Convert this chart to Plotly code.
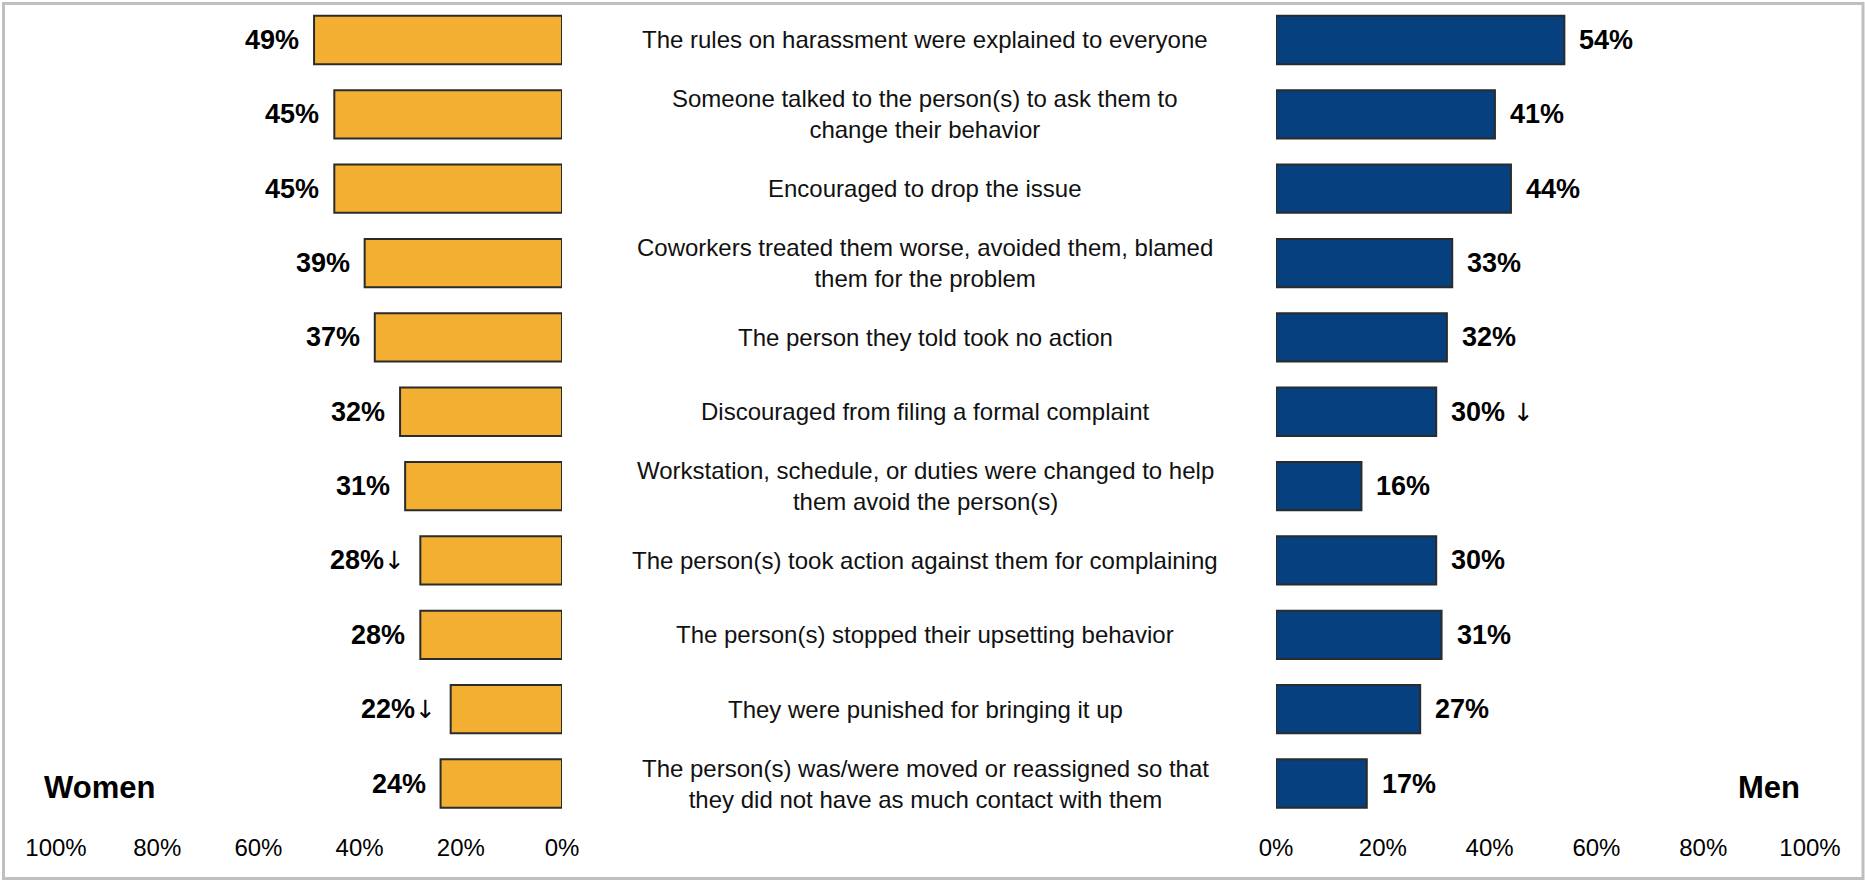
import plotly.graph_objects as go

categories = [
    "The rules on harassment were explained to everyone",
    "Someone talked to the person(s) to ask them to<br>change their behavior",
    "Encouraged to drop the issue",
    "Coworkers treated them worse, avoided them, blamed<br>them for the problem",
    "The person they told took no action",
    "Discouraged from filing a formal complaint",
    "Workstation, schedule, or duties were changed to help<br>them avoid the person(s)",
    "The person(s) took action against them for complaining",
    "The person(s) stopped their upsetting behavior",
    "They were punished for bringing it up",
    "The person(s) was/were moved or reassigned so that<br>they did not have as much contact with them",
]
women = [49, 45, 45, 39, 37, 32, 31, 28, 28, 22, 24]
men = [54, 41, 44, 33, 32, 30, 16, 30, 31, 27, 17]
women_marks = ["", "", "", "", "", "", "", "↓", "", "↓", ""]
men_marks = ["", "", "", "", "", " ↓", "", "", "", "", ""]
tick_vals = [0, 20, 40, 60, 80, 100]
tick_text = ["0%", "20%", "40%", "60%", "80%", "100%"]

W, H = 1865, 880
ORANGE = "#F3AF32"
BLUE = "#06407E"
EDGE = "#2b2b2b"
FONT = "Liberation Sans, Arial, sans-serif"


def value_text(v, mark):
    if mark:
        return (f"<b>{v}%</b><span style=\"font-family:'DejaVu Sans';"
                f"font-size:25px;font-weight:normal\">{mark}</span>")
    return f"<b>{v}%</b>"


fig = go.Figure()
fig.add_trace(go.Bar(
    y=categories, x=women, orientation="h", xaxis="x", yaxis="y",
    marker=dict(color=ORANGE, line=dict(color=EDGE, width=2)),
    width=0.65, showlegend=False, hoverinfo="skip",
))
fig.add_trace(go.Bar(
    y=categories, x=men, orientation="h", xaxis="x2", yaxis="y",
    marker=dict(color=BLUE, line=dict(color=EDGE, width=2)),
    width=0.65, showlegend=False, hoverinfo="skip",
))

annotations = []
for cat, v, mk in zip(categories, women, women_marks):
    annotations.append(dict(
        x=v, y=cat, xref="x", yref="y", xanchor="right", yanchor="middle",
        xshift=-13, showarrow=False, text=value_text(v, mk),
        font=dict(family=FONT, size=27, color="#000000"),
    ))
for cat, v, mk in zip(categories, men, men_marks):
    annotations.append(dict(
        x=v, y=cat, xref="x2", yref="y", xanchor="left", yanchor="middle",
        xshift=13, showarrow=False, text=value_text(v, mk),
        font=dict(family=FONT, size=27, color="#000000"),
    ))
for cat in categories:
    annotations.append(dict(
        x=925 / W, y=cat, xref="paper", yref="y", xanchor="center", yanchor="middle",
        showarrow=False, align="center", text=cat,
        font=dict(family=FONT, size=24, color="#111111"),
    ))
annotations.append(dict(
    x=42 / W, y=1 - 787 / H, xref="paper", yref="paper", xanchor="left", yanchor="middle",
    showarrow=False, text="<b>Women</b>", font=dict(family=FONT, size=31, color="#000000"),
))
annotations.append(dict(
    x=1802 / W, y=1 - 787 / H, xref="paper", yref="paper", xanchor="right", yanchor="middle",
    showarrow=False, text="<b>Men</b>", font=dict(family=FONT, size=31, color="#000000"),
))

axis_common = dict(
    tickvals=tick_vals, ticktext=tick_text, showgrid=False, zeroline=False,
    showline=False, ticks="", tickfont=dict(family=FONT, size=24, color="#000000"),
    ticklabelstandoff=10, fixedrange=True, automargin=False,
)

fig.update_layout(
    width=W, height=H, autosize=False,
    margin=dict(l=0, r=0, t=0, b=0, pad=0, autoexpand=False),
    paper_bgcolor="white", plot_bgcolor="white",
    xaxis=dict(domain=[56 / W, 562 / W], range=[100, 0], anchor="y", **axis_common),
    xaxis2=dict(domain=[1276 / W, 1810 / W], range=[0, 100], anchor="y", **axis_common),
    yaxis=dict(
        domain=[1 - 820.7 / H, 1 - 2.8 / H],
        categoryorder="array", categoryarray=categories,
        autorange="reversed", showticklabels=False, showgrid=False,
        zeroline=False, showline=False, ticks="", fixedrange=True, automargin=False,
    ),
    bargap=0.35,
    annotations=annotations,
    shapes=[dict(
        type="rect", xref="paper", yref="paper",
        x0=3.5 / W, x1=1863 / W, y0=1.5 / H, y1=1 - 3.5 / H,
        line=dict(color="#BFBFBF", width=3), fillcolor="rgba(0,0,0,0)",
        layer="above",
    )],
)

fig.write_html("out.html", config={"displayModeBar": False})
